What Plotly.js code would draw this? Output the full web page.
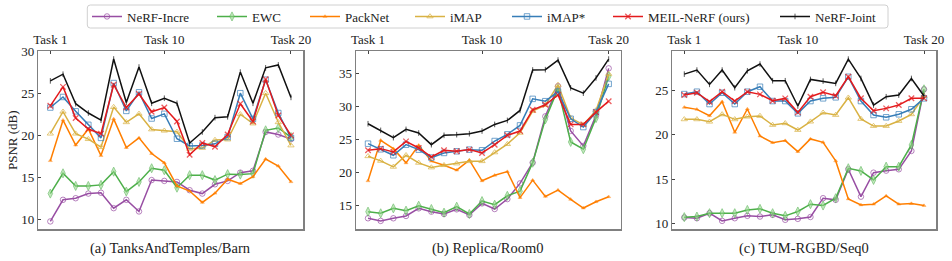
<!DOCTYPE html>
<html>
<head>
<meta charset="utf-8">
<script src="https://cdn.plot.ly/plotly-3.0.1.min.js"></script>
<style>html,body{margin:0;padding:0;background:#fff;}#chart{width:952px;height:261px;}</style>
</head>
<body>
<div id="chart"></div>
<script>
const tasks = [1,2,3,4,5,6,7,8,9,10,11,12,13,14,15,16,17,18,19,20];
const methods = ['NeRF-Incre','EWC','PackNet','iMAP','iMAP*','MEIL-NeRF (ours)','NeRF-Joint'];
const panelTitles = ['(a) TanksAndTemples/Barn','(b) Replica/Room0','(c) TUM-RGBD/Seq0'];
const taskTickVals = [1,10,20];
const taskTickText = ['Task 1','Task 10','Task 20'];

// Panel (a) TanksAndTemples/Barn
const aIncre = [9.8,12.36,12.55,13.1,13.2,11.37,12.36,10.98,14.7,14.6,14.48,13.5,13.1,14.2,14.6,15.58,15.8,20.4,20.1,19.55];
const aEWC   = [13.1,15.5,14.0,14.0,14.13,15.7,13.34,14.48,16.1,15.86,13.8,15.28,15.28,14.7,15.4,15.35,15.46,20.6,20.88,19.8];
const aPack  = [17.0,21.8,18.85,20.75,17.6,21.95,18.55,19.7,17.85,16.75,14.0,13.4,12.05,13.14,14.8,14.28,15.1,17.2,16.37,14.5];
const aIMAP  = [20.2,22.8,20.2,19.55,18.6,23.35,21.55,22.55,20.7,20.55,20.42,18.4,18.5,19.45,19.5,22.5,21.4,25.0,21.55,18.8];
const aIMAPs = [23.3,24.55,22.85,21.25,19.7,26.2,22.9,25.1,22.0,22.55,19.6,18.75,18.8,19.0,19.8,25.0,21.95,26.6,22.65,19.7];
const aMEIL  = [23.5,25.75,22.05,20.75,20.2,26.0,23.3,24.9,22.8,23.3,21.65,17.7,19.1,18.65,20.1,23.75,21.65,26.65,22.35,20.0];
const aJoint = [26.46,27.25,23.75,22.65,21.8,29.05,23.9,28.1,23.8,24.4,23.8,19.1,20.4,22.1,22.2,27.5,23.8,28.0,28.35,24.5];

// Panel (b) Replica/Room0
const bIncre = [13.1,12.7,13.1,13.45,14.6,14.1,13.75,14.45,13.6,15.35,14.5,16.0,18.37,21.5,28.5,33.05,26.3,24.03,28.64,35.75];
const bEWC   = [14.1,13.85,14.6,14.25,15.0,14.5,13.95,14.85,13.75,15.7,15.15,16.5,17.2,21.5,28.04,32.65,24.63,23.53,28.23,34.55];
const bPack  = [18.76,24.87,23.62,21.47,24.12,21.72,21.12,20.37,21.87,18.76,19.6,20.15,16.22,18.86,16.4,17.36,15.96,14.65,15.6,16.35];
const bIMAP  = [22.47,21.77,20.87,22.62,21.47,20.77,21.12,21.37,21.72,21.72,23.05,24.3,26.0,29.3,30.2,33.25,28.24,27.24,29.4,34.9];
const bIMAPs = [24.37,23.52,22.62,24.22,23.47,22.27,22.97,23.22,23.47,23.37,24.77,25.78,27.13,31.14,30.79,32.24,28.13,26.88,29.14,33.4];
const bMEIL  = [23.37,23.62,23.12,24.72,23.72,22.37,23.37,23.22,23.47,22.97,24.22,25.63,26.28,29.49,30.24,31.74,27.28,27.28,29.14,30.79];
const bJoint = [27.38,26.38,25.28,26.53,25.98,24.22,25.63,25.73,25.88,26.28,27.28,27.88,29.39,35.5,35.55,37.0,32.8,32.0,34.3,37.15];

// Panel (c) TUM-RGBD/Seq0
const cIncre = [10.64,10.56,11.13,10.26,10.56,10.83,10.75,10.94,10.38,10.49,10.7,12.83,12.64,16.1,13.0,15.72,15.95,16.1,18.18,25.16];
const cEWC   = [10.68,10.75,11.13,11.13,11.13,11.5,11.62,11.13,10.83,11.32,12.15,12.0,12.83,16.22,15.92,14.9,16.4,16.4,18.86,25.16];
const cPack  = [23.12,22.89,22.17,23.76,20.29,22.93,19.87,19.12,19.35,18.1,19.54,19.16,17.05,12.75,12.07,12.15,13.09,12.15,12.22,11.99];
const cIMAP  = [21.76,21.76,21.49,22.32,21.76,22.06,22.14,21.12,21.31,20.55,21.5,22.51,22.25,24.21,21.8,21.0,21.0,21.57,22.33,24.4];
const cIMAPs = [24.62,24.89,23.49,24.77,23.49,24.89,25.45,23.83,23.83,22.44,23.83,24.14,24.25,26.58,23.83,22.25,21.99,22.33,22.9,24.14];
const cMEIL  = [24.51,24.77,23.76,24.89,23.83,24.89,24.59,23.87,24.13,22.55,24.32,24.82,24.44,26.58,24.14,22.74,23.0,23.38,24.14,24.14];
const cJoint = [26.88,27.34,25.72,27.34,25.34,27.26,28.02,26.13,26.13,23.27,26.28,26.09,25.83,28.58,26.39,23.38,24.32,24.51,26.39,24.4];

const panels = [
  [aIncre,aEWC,aPack,aIMAP,aIMAPs,aMEIL,aJoint],
  [bIncre,bEWC,bPack,bIMAP,bIMAPs,bMEIL,bJoint],
  [cIncre,cEWC,cPack,cIMAP,cIMAPs,cMEIL,cJoint]
];

const colors = ['#984ea3','#4daf4a','#ff7f00','#d9b244','#377eb8','#e41a1c','#111111'];
const markerSpecs = [
  {symbol:'circle-open', size:5.5, lw:1},
  {symbol:'diamond-tall', size:6.5, lw:0.8},
  {symbol:'triangle-up', size:3.5, lw:0.5},
  {symbol:'triangle-up-open', size:5.5, lw:1},
  {symbol:'square-open', size:5.5, lw:1},
  {symbol:'x-thin-open', size:5.5, lw:1.3},
  {symbol:'line-ns-open', size:4, lw:1}
];
const fillColors = ['#984ea3','rgba(150,215,140,0.8)','#ff7f00','#d9b244','#377eb8','#e41a1c','#111111'];

const FONT = 'Liberation Serif';
const W = 952, H = 261;
const xDomPx = [[38.3,303],[356,620.7],[672.3,936]];
const yDom = [(H-229)/H, (H-51)/H];
const yRanges = [[8.9,30.0],[11.48,38.37],[9.34,29.5]];
const yTicks = [[10,15,20,25,30],[15,20,25,30,35],[10,15,20,25]];

const traces = [];
panels.forEach((series, p) => {
  series.forEach((vals, m) => {
    const ms = markerSpecs[m];
    traces.push({
      x: tasks, y: vals, type: 'scatter', mode: 'lines+markers',
      name: methods[m],
      xaxis: p === 0 ? 'x' : 'x' + (p+1),
      yaxis: p === 0 ? 'y' : 'y' + (p+1),
      line: {color: colors[m], width: 1.5},
      marker: {symbol: ms.symbol, size: ms.size, color: fillColors[m], opacity: 0.7,
               line: {color: colors[m], width: ms.lw}},
      showlegend: p === 0,
      legend: m === 0 ? 'legend' : 'legend' + (m+1)
    });
  });
});

const layout = {
  width: W, height: H,
  margin: {l:0, r:0, t:0, b:0},
  paper_bgcolor: '#fff', plot_bgcolor: '#fff',
  font: {family: FONT, size: 13, color: '#222'},
  shapes: [],
  annotations: []
};

const textStarts = [129, 254, 347, 452, 549, 650, 817];
textStarts.forEach((tx, m) => {
  const key = m === 0 ? 'legend' : 'legend' + (m+1);
  layout[key] = {
    x: (tx - 42) / W, xanchor: 'left', y: (H-16.5)/H, yanchor: 'middle',
    orientation: 'h', bgcolor: 'rgba(0,0,0,0)', borderwidth: 0,
    font: {family: FONT, size: 13, color: '#222'}
  };
});

(function(){
  const x0 = 87.3/W, x1 = 888/W, yb = (H-28)/H, yt = (H-5)/H;
  const rx = 3/W, ry = 3/H;
  layout.shapes.push({
    type: 'path', xref: 'paper', yref: 'paper',
    path: `M ${x0+rx},${yt} L ${x1-rx},${yt} Q ${x1},${yt} ${x1},${yt-ry} L ${x1},${yb+ry} Q ${x1},${yb} ${x1-rx},${yb} L ${x0+rx},${yb} Q ${x0},${yb} ${x0},${yb+ry} L ${x0},${yt-ry} Q ${x0},${yt} ${x0+rx},${yt} Z`,
    line: {color: '#d0d0d0', width: 1}, fillcolor: 'rgba(255,255,255,0)'
  });
})();

for (let p = 0; p < 3; p++) {
  const xk = p === 0 ? 'xaxis' : 'xaxis' + (p+1);
  const yk = p === 0 ? 'yaxis' : 'yaxis' + (p+1);
  const xa = p === 0 ? 'x' : 'x' + (p+1);
  const ya = p === 0 ? 'y' : 'y' + (p+1);
  layout[xk] = {
    domain: [xDomPx[p][0]/W, xDomPx[p][1]/W], anchor: ya, side: 'top',
    range: [0.05, 20.95], tickvals: taskTickVals, ticktext: taskTickText,
    ticks: 'inside', ticklen: 3, tickwidth: 1, tickcolor: '#444',
    showline: true, linecolor: '#808080', linewidth: 1.5, mirror: true,
    showgrid: false, zeroline: false, automargin: false,
    tickfont: {family: FONT, size: 13, color: '#222'}
  };
  layout[yk] = {
    domain: yDom, anchor: xa, range: yRanges[p], tickvals: yTicks[p],
    ticks: 'inside', ticklen: 3, tickwidth: 1, tickcolor: '#444',
    showline: true, linecolor: '#808080', linewidth: 1.5, mirror: true,
    showgrid: false, zeroline: false, automargin: false,
    tickfont: {family: FONT, size: 13, color: '#222'}
  };
  layout.annotations.push({
    text: panelTitles[p], xref: 'paper', yref: 'paper',
    x: ((xDomPx[p][0]+xDomPx[p][1])/2)/W, y: (H-248)/H,
    xanchor: 'center', yanchor: 'middle', showarrow: false,
    font: {family: FONT, size: 14.5, color: '#222'}
  });
}
layout.annotations.push({
  text: 'PSNR (dB)', xref: 'paper', yref: 'paper', x: 12/W, y: (H-140)/H,
  textangle: -90, xanchor: 'center', yanchor: 'middle', showarrow: false,
  font: {family: FONT, size: 13, color: '#222'}
});

Plotly.newPlot('chart', traces, layout, {displayModeBar: false, staticPlot: true});
</script>
</body>
</html>
